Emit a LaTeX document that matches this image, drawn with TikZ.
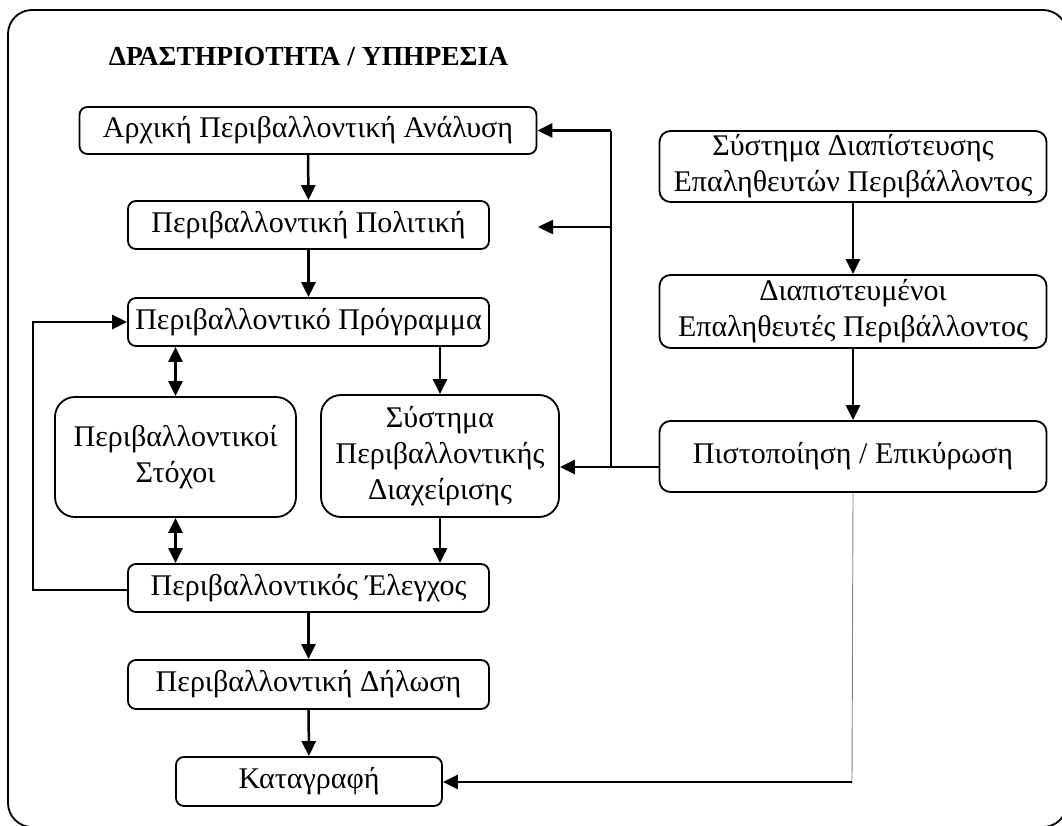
\documentclass[tikz,border=0pt]{standalone}
\usepackage{fontspec}
\setmainfont{Liberation Serif}
\usetikzlibrary{arrows.meta}
\begin{document}
\begin{tikzpicture}[x=1pt,y=-1pt,
 box/.style={draw, line width=1.8pt, rounded corners=8pt, align=center, inner sep=0pt, font=\fontsize{30}{36}\selectfont},
 bigbox/.style={box, rounded corners=20pt},
 rbox/.style={box, rounded corners=11pt},
 tip/.tip={Triangle[length=15pt,width=14pt]},
 arr/.style={line width=2.5pt, -tip},
 dbl/.style={line width=2.5pt, tip-tip},
 thin/.style={line width=0.9pt, draw=gray}]
\useasboundingbox (0,0) rectangle (1062,825);
\draw[line width=1.8pt, rounded corners=24pt] (8,10) rectangle (1067,827);
\node[font=\fontsize{27.5}{32}\selectfont\bfseries] (title) at (308.5,57) {ΔΡΑΣΤΗΡΙΟΤΗΤΑ / ΥΠΗΡΕΣΙΑ};
% left column
\node[box, minimum width=457pt, minimum height=47pt] (b1) at (308,130.5) {Αρχική Περιβαλλοντική Ανάλυση};
\node[box, minimum width=361pt, minimum height=48pt] (b2) at (308.5,225) {Περιβαλλοντική Πολιτική};
\node[box, minimum width=361pt, minimum height=48pt] (b3) at (308.5,322) {Περιβαλλοντικό Πρόγραμμα};
\node[bigbox, minimum width=241pt, minimum height=120pt] (b4) at (175.5,457) {Περιβαλλοντικοί\\Στόχοι};
\node[bigbox, minimum width=238pt, minimum height=122pt] (b5) at (440,456) {Σύστημα\\Περιβαλλοντικής\\Διαχείρισης};
\node[box, minimum width=361pt, minimum height=48pt] (b6) at (308.5,588) {Περιβαλλοντικός Έλεγχος};
\node[box, minimum width=361pt, minimum height=49pt] (b7) at (308.5,684.5) {Περιβαλλοντική Δήλωση};
\node[box, minimum width=266pt, minimum height=49pt] (b8) at (309,781.5) {Καταγραφή};
% right column
\node[rbox, minimum width=387pt, minimum height=71pt] (r1) at (853,166.5) {Σύστημα Διαπίστευσης\\Επαληθευτών Περιβάλλοντος};
\node[rbox, minimum width=387pt, minimum height=73pt] (r2) at (853,311.5) {Διαπιστευμένοι\\Επαληθευτές Περιβάλλοντος};
\node[rbox, minimum width=387pt, minimum height=71pt] (r3) at (853,456.5) {Πιστοποίηση / Επικύρωση};
% coordinates
\coordinate (v1) at (611,130.5);
\coordinate (v2) at (611,227);
\coordinate (v3) at (611,467);
\coordinate (e2) at (538,227);
\coordinate (fb1) at (33,590);
\coordinate (fb2) at (33,322);
\coordinate (g1) at (852,782);
% connectors
\draw[arr] (b1) -- (b2);
\draw[arr] (b2) -- (b3);
\draw[dbl] (b3.south -| b4) -- (b4);
\draw[dbl] (b4) -- (b6.north -| b4);
\draw[arr] (b3.south -| b5) -- (b5);
\draw[arr] (b5) -- (b6.north -| b5);
\draw[arr] (b6) -- (b7);
\draw[arr] (b7) -- (b8);
\draw[arr] (b6.west |- fb1) -- (fb1) -- (fb2) -- (b3.west);
\draw[arr] (r1) -- (r2);
\draw[arr] (r2) -- (r3);
\draw[arr] (r3.west |- v3) -- (b5.east |- v3);
\draw[line width=2.5pt] (v3) -- (v1);
\draw[arr] (v1) -- (b1.east);
\draw[arr] (v2) -- (e2);
\draw[thin] (r3.south) -- (g1);
\draw[arr] (g1) -- (b8.east |- g1);
\end{tikzpicture}
\end{document}
